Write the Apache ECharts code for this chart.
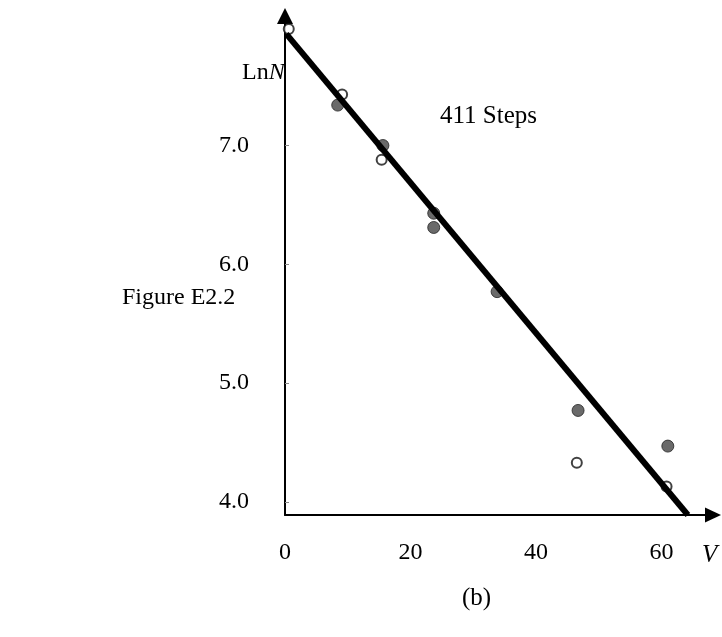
<!DOCTYPE html>
<html>
<head>
<meta charset="utf-8">
<script src="https://cdn.jsdelivr.net/npm/echarts@6/dist/echarts.min.js"></script>
<style>html,body{margin:0;padding:0;background:#fff;}#c{width:722px;height:637px;}</style>
</head>
<body>
<div id="c"></div>
<script>
const xTicks = [0, 20, 40, 60];
const yTicks = [4, 5, 6, 7];
const filledV = [8.4, 15.6, 23.7, 23.7, 33.8, 46.7, 61.0];
const filledLnN = [7.34, 7.00, 6.43, 6.31, 5.77, 4.77, 4.47];
const openV = [0.6, 9.1, 15.4, 46.5, 60.8];
const openLnN = [7.98, 7.43, 6.88, 4.33, 4.13];
const fitV = [0.2, 64.2];
const fitLnN = [7.94, 3.89];

const FONT = '"Liberation Serif", "Times New Roman", serif';
const chart = echarts.init(document.getElementById('c'), null, {renderer: 'canvas'});
const zip = (a, b) => a.map((v, i) => [v, b[i]]);

chart.setOption({
  animation: false,
  backgroundColor: '#fff',
  grid: {left: 285, right: 9, top: 16, bottom: 122, containLabel: false},
  xAxis: {
    type: 'value', min: 0, max: 68.2,
    axisLine: {show: true, lineStyle: {color: '#000', width: 2}, symbol: ['none', 'triangle'], symbolSize: [15, 16]},
    axisTick: {show: false},
    splitLine: {show: false},
    axisLabel: {customValues: xTicks, color: '#000', fontFamily: FONT, fontSize: 24, margin: 26}
  },
  yAxis: {
    type: 'value', min: 3.89, max: 8.09,
    axisLine: {show: true, lineStyle: {color: '#000', width: 2}, symbol: ['none', 'triangle'], symbolSize: [16, 16]},
    axisTick: {show: true, inside: true, length: 4, customValues: yTicks, lineStyle: {color: '#888', width: 1}},
    splitLine: {show: false},
    axisLabel: {customValues: yTicks, color: '#000', fontFamily: FONT, fontSize: 24, margin: 36,
      padding: [10, 0, 0, 0], formatter: v => v.toFixed(1)}
  },
  series: [
    {type: 'scatter', data: zip(filledV, filledLnN), symbol: 'circle', symbolSize: 12,
      itemStyle: {color: '#454545', borderColor: '#222', borderWidth: 1}, z: 2},
    {type: 'scatter', data: zip(openV, openLnN), symbol: 'circle', symbolSize: 10,
      itemStyle: {color: '#fff', borderColor: '#111', borderWidth: 2}, z: 2},
    {type: 'line', data: zip(fitV, fitLnN), symbol: 'none', lineStyle: {color: '#000', width: 6}, z: 3}
  ],
  graphic: [
    {type: 'text', left: 242, top: 61, style: {text: 'Ln{i|N}', fill: '#000', font: '24px ' + FONT,
      rich: {i: {fontStyle: 'italic', fontFamily: FONT, fontSize: 24, fill: '#000'}}}},
    {type: 'text', left: 440, top: 104, style: {text: '411 Steps', fill: '#000', font: '25px ' + FONT}},
    {type: 'text', left: 122, top: 286, style: {text: 'Figure E2.2', fill: '#000', font: '24px ' + FONT}},
    {type: 'text', left: 702, top: 543, style: {text: 'V', fill: '#000', font: 'italic 25px ' + FONT}},
    {type: 'text', left: 462, top: 586, style: {text: '(b)', fill: '#000', font: '25px ' + FONT}}
  ]
});
</script>
</body>
</html>
